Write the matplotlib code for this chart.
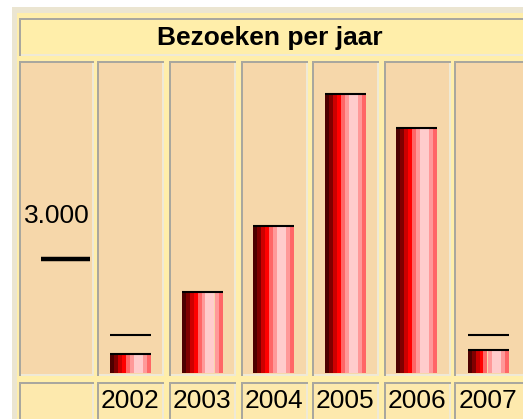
import matplotlib
matplotlib.use("Agg")
import matplotlib.pyplot as plt
from matplotlib.patches import Rectangle

# --- data ---
years = ["2002", "2003", "2004", "2005", "2006", "2007"]
visits = [525, 2160, 3890, 7370, 6470, 630]
expected = [1000, None, None, None, None, 1000]
scale_value = 3000
scale_label = "3.000"
title = "Bezoeken per jaar"

# --- style ---
W, H = 523, 419
frame_col = "#ebe5d1"
yellow = "#ffeeaa"
label_fill = "#fde9ad"
cell_fill = "#f6d7aa"
border_dark = "#a9a79e"
border_light = "#efe9d6"
stripe_colors = ["#4d0000", "#800000", "#cc0000", "#ff0000", "#ff6666",
                 "#ff9999", "#ffcccc", "#ff9999", "#ff6666"]
stripe_px = [4, 4, 4, 4, 4, 4, 9, 4, 4]

plt.rcParams['font.family'] = ['Liberation Sans', 'DejaVu Sans']

fig = plt.figure(figsize=(W / 100, H / 100), dpi=100)
fig.patch.set_facecolor("white")


def px_rect(x0, y0, x1, y1, color):
    r = Rectangle((x0 / W, 1 - y1 / H), (x1 - x0) / W, (y1 - y0) / H,
                  transform=fig.transFigure, facecolor=color, edgecolor="none",
                  zorder=0)
    fig.patches.append(r)


def inset_cell(x0, y0, x1, y1, fill):
    px_rect(x0, y0, x1, y1, border_dark)
    px_rect(x0 + 2, y0 + 2, x1, y1, border_light)
    px_rect(x0 + 2, y0 + 2, x1 - 2, y1 - 2, fill)


# table frame
px_rect(12, 7, W + 5, H + 5, frame_col)
px_rect(17, 13, W + 5, H + 5, yellow)

# title cell
inset_cell(19, 18, W + 5, 56, yellow)

# body and label cells
col_edges = [(19, 94), (97, 164), (169, 236), (241, 308), (312, 379),
             (384, 451), (454, W + 5)]
for x0, x1 in col_edges:
    inset_cell(x0, 61, x1, 376, cell_fill)
    inset_cell(x0, 382, x1, H + 5, label_fill)

# --- axes mapped onto the table (column units / visit counts) ---
pitch = 71.5
c1 = 130.5
px_per_unit = 114 / 3000
base_px = 373
ax = fig.add_axes([0, 0, 1, 1])
ax.set_zorder(1)
ax.patch.set_alpha(0)
ax.set_xlim((0 - c1) / pitch + 1, (W - c1) / pitch + 1)
ax.set_ylim(-(H - base_px) / px_per_unit, base_px / px_per_unit)
ax.axis("off")

xs = list(range(1, len(years) + 1))
bar_w = sum(stripe_px) / pitch
offset = -bar_w / 2
for col, wpx in zip(stripe_colors, stripe_px):
    w = wpx / pitch
    ax.bar([x + offset for x in xs], visits, width=w, align="edge",
           color=col, linewidth=0)
    offset += w
for x, v in zip(xs, visits):
    ax.hlines(v - 1 / px_per_unit, x - bar_w / 2, x + bar_w / 2,
              color="black", lw=1.5)

for x, e in zip(xs, expected):
    if e is not None:
        ax.hlines(e, x - bar_w / 2, x + bar_w / 2, color="black", lw=1.5)

# scale marker in first column
ax.hlines(scale_value, (41 - c1) / pitch + 1, (90 - c1) / pitch + 1,
          color="black", lw=3.2)
ax.text((90 - c1) / pitch + 1, scale_value + 43 / px_per_unit, scale_label,
        ha="right", va="center", fontsize=19, color="black")

# year labels
for x, y in zip(xs, years):
    ax.text(x, -(401 - base_px) / px_per_unit, y, ha="center", va="center",
            fontsize=19, color="black")

fig.text(270 / W, 1 - 38 / H, title, ha="center", va="center",
         fontsize=19, fontweight="bold", color="black")

fig.savefig("out.png", dpi=100)
